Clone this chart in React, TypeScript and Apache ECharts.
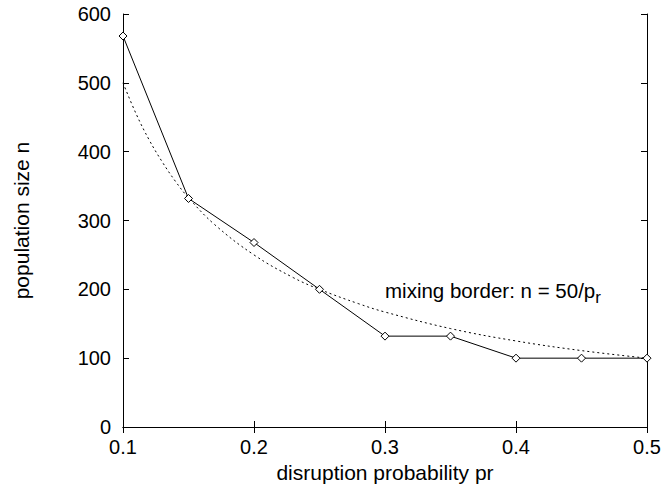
import React, { useEffect, useRef } from "react";
import * as echarts from "echarts";

const probabilities = [0.1, 0.15, 0.2, 0.25, 0.3, 0.35, 0.4, 0.45, 0.5];
const populationSizes = [568, 332, 268, 200, 132, 132, 100, 100, 100];

// mixing border n = 50/p_r, values read at sample points
const borderP = [0.1, 0.11, 0.12, 0.13, 0.14, 0.15, 0.17, 0.2, 0.23, 0.25, 0.28, 0.3, 0.35, 0.4, 0.45, 0.5];
const borderN = [500, 455, 417, 385, 357, 333, 294, 250, 217, 200, 179, 167, 143, 125, 111, 100];

const xTicks = [0.1, 0.2, 0.3, 0.4, 0.5];
const yTicks = [0, 100, 200, 300, 400, 500, 600];

const FONT = "Liberation Sans, Arial, sans-serif";
const FS = 20;
const NAME_FS = 21;

export default function App() {
  const ref = useRef<HTMLDivElement>(null);
  useEffect(() => {
    if (!ref.current) return;
    const chart = echarts.init(ref.current, null, { renderer: "svg" });
    const axisLine = { show: true, lineStyle: { color: "#000", width: 1 } };
    const tick = { show: true, inside: true, length: 6, lineStyle: { color: "#000", width: 1 } };
    chart.setOption({
      animation: false,
      backgroundColor: "#fff",
      grid: { left: 123, right: 18, top: 14, bottom: 60, containLabel: false, outerBoundsMode: "none" },
      xAxis: [
        {
          type: "value",
          min: 0.1,
          max: 0.5,
          interval: 0.1,
          axisLine,
          axisTick: tick,
          splitLine: { show: false },
          axisLabel: {
            color: "#000",
            fontSize: FS,
            fontFamily: FONT,
            margin: 10,
            formatter: (v: number) => (xTicks.some((t) => Math.abs(t - v) < 1e-9) ? String(Math.round(v * 10) / 10) : ""),
          },
          name: "disruption probability pr",
          nameLocation: "middle",
          nameGap: 31,
          nameTextStyle: { color: "#000", fontSize: NAME_FS, fontFamily: FONT },
        },
        {
          type: "value",
          position: "top",
          min: 0.1,
          max: 0.5,
          interval: 0.1,
          axisLine,
          axisTick: tick,
          axisLabel: { show: false },
          splitLine: { show: false },
        },
      ],
      yAxis: [
        {
          type: "value",
          min: 0,
          max: 600,
          interval: 100,
          axisLine,
          axisTick: tick,
          splitLine: { show: false },
          axisLabel: {
            color: "#000",
            fontSize: FS,
            fontFamily: FONT,
            margin: 12,
            formatter: (v: number) => (yTicks.includes(v) ? String(v) : ""),
          },
          name: "population size n",
          nameLocation: "middle",
          nameGap: 91,
          nameRotate: 90,
          nameTextStyle: { color: "#000", fontSize: NAME_FS, fontFamily: FONT },
        },
        {
          type: "value",
          position: "right",
          min: 0,
          max: 600,
          interval: 100,
          axisLine,
          axisTick: tick,
          axisLabel: { show: false },
          splitLine: { show: false },
        },
      ],
      series: [
        {
          type: "line",
          data: borderP.map((p, i) => [p, borderN[i]]),
          smooth: 0.4,
          showSymbol: false,
          symbol: "none",
          lineStyle: { color: "#000", width: 1, type: [2, 3] },
          z: 2,
        },
        {
          type: "line",
          data: probabilities.map((p, i) => [p, populationSizes[i]]),
          symbol: "diamond",
          symbolSize: [8, 8],
          itemStyle: { color: "#fff", borderColor: "#000", borderWidth: 1 },
          lineStyle: { color: "#000", width: 1 },
          z: 3,
        },
      ],
      graphic: [
        {
          type: "text",
          left: 385,
          top: 280,
          style: {
            text: "{a|mixing border: n = 50/p}{s|r}",
            rich: {
              a: { fontSize: 20.5, fontFamily: FONT, fill: "#000" },
              s: { fontSize: 17, fontFamily: FONT, fill: "#000", padding: [14, 0, 0, 0] },
            },
          },
        },
      ],
    });
    return () => chart.dispose();
  }, []);
  return (
    <div
      ref={ref}
      style={{ position: "fixed", left: 0, top: 0, width: 665, height: 487, background: "#fff" }}
    />
  );
}
